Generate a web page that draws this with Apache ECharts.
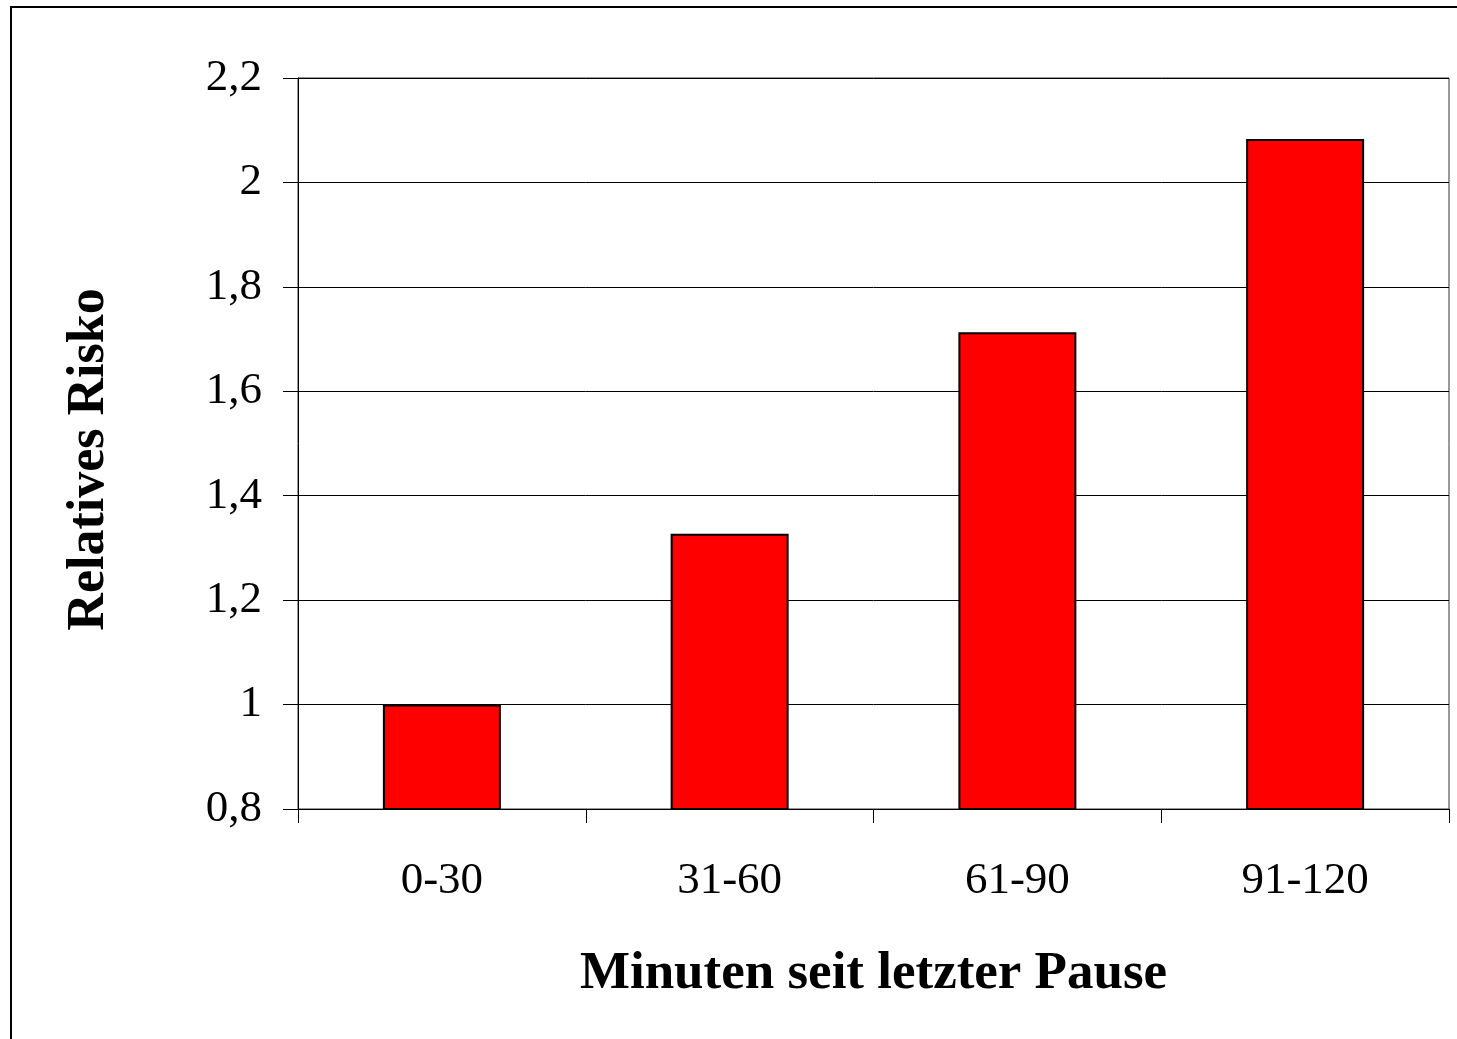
<!DOCTYPE html>
<html>
<head>
<meta charset="utf-8">
<script src="https://cdn.jsdelivr.net/npm/echarts@6/dist/echarts.min.js"></script>
<style>
  html, body { margin: 0; padding: 0; background: #fff; }
  #chart { width: 1457px; height: 1039px; }
</style>
</head>
<body>
<div id="chart"></div>
<script>
var categories = ['0-30', '31-60', '61-90', '91-120'];
var risk = [1.0, 1.327, 1.713, 2.083];
var yMin = 0.8, yMax = 2.2, yStep = 0.2;

var chart = echarts.init(document.getElementById('chart'));
var serif = '"Liberation Serif", "Times New Roman", serif';

chart.setOption({
    animation: false,
    backgroundColor: '#fff',
    graphic: [{
        type: 'rect',
        shape: { x: 11, y: 7, width: 1500, height: 1100 },
        style: { fill: 'none', stroke: '#000', lineWidth: 2 },
        silent: true
    }],
    grid: {
        left: 298, right: 8, top: 78, bottom: 230,
        show: true, borderColor: '#333', borderWidth: 1, backgroundColor: 'transparent'
    },
    xAxis: {
        type: 'category',
        data: categories,
        name: 'Minuten seit letzter Pause',
        nameLocation: 'middle',
        nameGap: 139,
        nameTextStyle: { fontFamily: serif, fontWeight: 'bold', fontSize: 53, color: '#000' },
        axisLine: { lineStyle: { color: '#000', width: 1 } },
        axisTick: { show: true, length: 14, alignWithLabel: false, lineStyle: { color: '#000' } },
        axisLabel: { fontFamily: serif, fontSize: 45, color: '#000', margin: 50 }
    },
    yAxis: {
        type: 'value',
        min: yMin, max: yMax, interval: yStep,
        name: 'Relatives Risko',
        nameLocation: 'middle',
        nameGap: 182,
        nameRotate: 90,
        nameTextStyle: {
            fontFamily: serif, fontWeight: 'bold', fontSize: 52, color: '#000',
            padding: [0, 32, 0, 0]
        },
        axisLine: { show: true, lineStyle: { color: '#000', width: 1 } },
        axisTick: { show: true, length: 15, lineStyle: { color: '#000' } },
        splitLine: { show: true, lineStyle: { color: '#000', width: 1 } },
        axisLabel: {
            fontFamily: serif, fontSize: 45, color: '#000', margin: 36,
            formatter: function (v) { return String(Math.round(v * 10) / 10).replace('.', ','); }
        }
    },
    series: [{
        type: 'bar',
        data: risk,
        barWidth: 118,
        itemStyle: { color: '#ff0000', borderColor: '#000', borderWidth: 2 }
    }]
});
</script>
</body>
</html>
